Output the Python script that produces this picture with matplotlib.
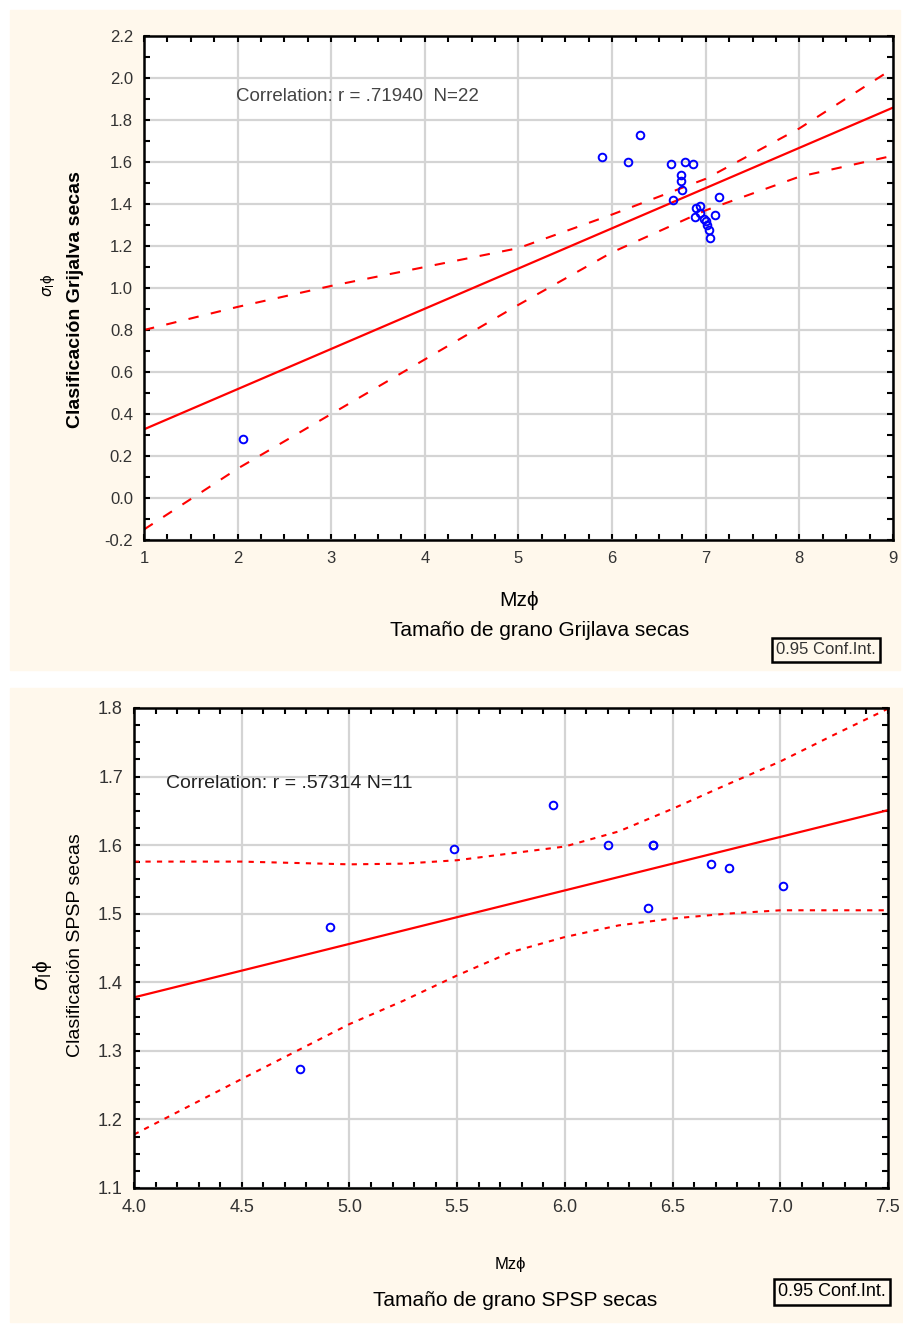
import numpy as np
import matplotlib
matplotlib.use("Agg")
import matplotlib.pyplot as plt
from matplotlib.patches import Rectangle
from matplotlib.ticker import MultipleLocator

plt.rcParams['font.family'] = ['Liberation Sans', 'DejaVu Sans']
plt.rcParams['mathtext.fontset'] = 'dejavusans'

# --- panel 1: Grijalva ---
mz_grij = [6.30, 5.89, 6.17, 6.63, 6.78, 6.86, 6.74, 6.74, 6.75, 6.65, 7.14,
           6.90, 6.94, 6.89, 7.10, 7.00, 7.01, 7.03, 7.05, 6.94, 6.98, 2.06]
sig_grij = [1.73, 1.625, 1.60, 1.59, 1.60, 1.59, 1.54, 1.51, 1.467, 1.42, 1.435,
            1.38, 1.39, 1.34, 1.35, 1.32, 1.30, 1.276, 1.237, 1.356, 1.33, 0.28]
fit_x_grij = [1, 9]
fit_y_grij = [0.327, 1.859]
ci_x_grij = [1, 2, 3, 4, 5, 6, 7, 8, 9]
ci_hi_grij = [0.80, 0.91, 1.01, 1.10, 1.19, 1.35, 1.52, 1.76, 2.045]
ci_lo_grij = [-0.15, 0.14, 0.40, 0.66, 0.92, 1.17, 1.37, 1.53, 1.63]

# --- panel 2: SPSP ---
mz_spsp = [5.946, 5.487, 6.20, 6.411, 6.68, 6.762, 7.012, 6.384, 4.91, 4.772, 6.411]
sig_spsp = [1.658, 1.594, 1.600, 1.600, 1.572, 1.567, 1.540, 1.508, 1.480, 1.273, 1.600]
fit_x_spsp = [4.0, 7.5]
fit_y_spsp = [1.378, 1.651]
ci_x_spsp = [4.0, 4.5, 5.0, 5.25, 5.5, 5.75, 6.0, 6.25, 6.5, 6.75, 7.0, 7.25, 7.5]
ci_hi_spsp = [1.576, 1.576, 1.572, 1.573, 1.578, 1.588, 1.598, 1.620, 1.653, 1.688, 1.722, 1.761, 1.799]
ci_lo_spsp = [1.178, 1.259, 1.339, 1.373, 1.41, 1.444, 1.466, 1.483, 1.493, 1.50, 1.505, 1.505, 1.505]

cream = '#FFF8EC'
W, H = 904, 1327
fig = plt.figure(figsize=(W / 100, H / 100), dpi=100)
fig.patch.set_facecolor('white')
fig.patches.append(Rectangle((10 / W, 1 - 670 / H), 890 / W, 660 / H,
                             transform=fig.transFigure, color=cream, zorder=-10))
fig.patches.append(Rectangle((10 / W, 1 - 1322 / H), 894 / W, 634 / H,
                             transform=fig.transFigure, color=cream, zorder=-10))


def style_axes(ax, lsize):
    ax.set_facecolor('white')
    ax.grid(True, which='major', color='#d4d4d4', linewidth=1.6)
    ax.set_axisbelow(True)
    for s in ax.spines.values():
        s.set_linewidth(1.8)
    ax.tick_params(which='both', direction='in', top=True, right=True,
                   labelsize=lsize, pad=8, labelcolor='#333333')
    ax.tick_params(which='major', length=4, width=1.5)
    ax.tick_params(which='minor', length=4, width=1.5)


# panel 1
ax1 = fig.add_axes([144 / W, 1 - 540 / H, 749 / W, 504 / H])
style_axes(ax1, 12)
ax1.plot(fit_x_grij, fit_y_grij, color='red', lw=1.6)
ax1.plot(ci_x_grij, ci_hi_grij, color='red', lw=1.5, ls=(0, (5, 6)))
ax1.plot(ci_x_grij, ci_lo_grij, color='red', lw=1.5, ls=(0, (5, 6)))
ax1.plot(mz_grij, sig_grij, 'o', mfc='none', mec='blue', mew=1.4, ms=5.5)
ax1.set_xlim(1, 9)
ax1.set_ylim(-0.2, 2.2)
ax1.xaxis.set_major_locator(MultipleLocator(1))
ax1.xaxis.set_minor_locator(MultipleLocator(0.25))
ax1.yaxis.set_major_locator(MultipleLocator(0.2))
ax1.yaxis.set_minor_locator(MultipleLocator(0.1))
ax1.yaxis.set_major_formatter(lambda v, p: f'{v:.1f}')
ax1.text(1.98, 1.91, 'Correlation: r = .71940  N=22', fontsize=13.5, color='#444444',
         va='center')
fig.text(75 / W, 1 - 300 / H, 'Clasificación Grijalva secas', rotation=90,
         ha='center', va='center', fontsize=14, fontweight='bold')
fig.text(48 / W, 1 - 285 / H, r'$\sigma_{\mathrm{I}}$ϕ', rotation=90,
         ha='center', va='center', fontsize=11)
fig.text(519 / W, 1 - 601 / H, 'Mzϕ', ha='center', va='center', fontsize=15)
fig.text(540 / W, 1 - 630 / H, 'Tamaño de grano Grijlava secas', ha='center',
         va='center', fontsize=15)
fig.text(826 / W, 1 - 650 / H, '0.95 Conf.Int.', ha='center', va='center',
         fontsize=12, color='#333333',
         bbox=dict(facecolor='none', edgecolor='black', lw=1.8, pad=3))

# panel 2
ax2 = fig.add_axes([134 / W, 1 - 1188 / H, 754 / W, 480 / H])
style_axes(ax2, 13)
ax2.plot(fit_x_spsp, fit_y_spsp, color='red', lw=1.6)
ax2.plot(ci_x_spsp, ci_hi_spsp, color='red', lw=1.5, ls=(0, (2.5, 3)))
ax2.plot(ci_x_spsp, ci_lo_spsp, color='red', lw=1.5, ls=(0, (2.5, 3)))
ax2.plot(mz_spsp, sig_spsp, 'o', mfc='none', mec='blue', mew=1.4, ms=5.5)
ax2.set_xlim(4.0, 7.5)
ax2.set_ylim(1.1, 1.8)
ax2.xaxis.set_major_locator(MultipleLocator(0.5))
ax2.xaxis.set_minor_locator(MultipleLocator(0.1))
ax2.yaxis.set_major_locator(MultipleLocator(0.1))
ax2.yaxis.set_minor_locator(MultipleLocator(0.025))
ax2.xaxis.set_major_formatter(lambda v, p: f'{v:.1f}')
ax2.yaxis.set_major_formatter(lambda v, p: f'{v:.1f}')
ax2.text(4.15, 1.69, 'Correlation: r = .57314 N=11', fontsize=14, color='#222222',
         va='center')
fig.text(75 / W, 1 - 945 / H, 'Clasificación SPSP secas', rotation=90,
         ha='center', va='center', fontsize=14)
fig.text(42 / W, 1 - 975 / H, r'$\sigma_{\mathrm{I}}$ϕ', rotation=90,
         ha='center', va='center', fontsize=15)
fig.text(510 / W, 1 - 1265 / H, 'Mzϕ', ha='center', va='center', fontsize=12)
fig.text(515 / W, 1 - 1300 / H, 'Tamaño de grano SPSP secas', ha='center',
         va='center', fontsize=15)
fig.text(832 / W, 1 - 1292 / H, '0.95 Conf.Int.', ha='center', va='center',
         fontsize=13, bbox=dict(facecolor='none', edgecolor='black', lw=1.8, pad=3))

fig.savefig('out.png', dpi=100, facecolor=fig.get_facecolor())
